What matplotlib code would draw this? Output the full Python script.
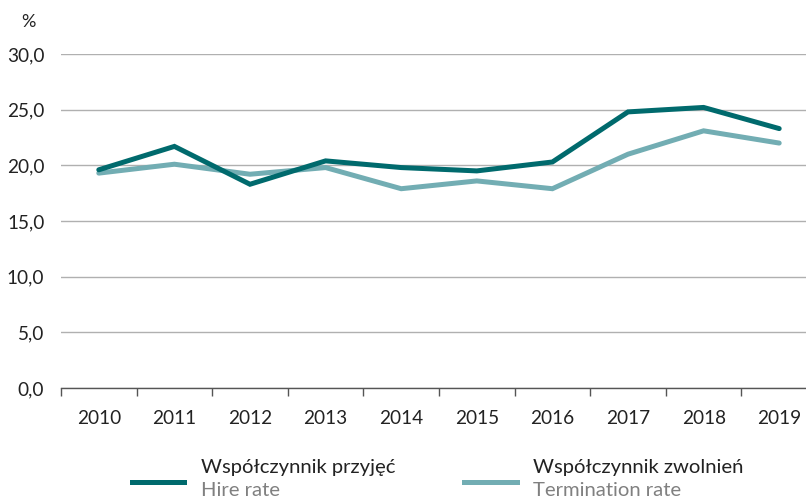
import matplotlib
matplotlib.use("Agg")
import matplotlib.pyplot as plt
from matplotlib.lines import Line2D
import numpy as np

years = ["2010", "2011", "2012", "2013", "2014", "2015", "2016", "2017", "2018", "2019"]
hire_rate = [19.6, 21.7, 18.3, 20.4, 19.8, 19.5, 20.3, 24.8, 25.2, 23.3]
termination_rate = [19.3, 20.1, 19.2, 19.8, 17.9, 18.6, 17.9, 21.0, 23.1, 22.0]
yticks = [0, 5, 10, 15, 20, 25, 30]
ytick_labels = ["0,0", "5,0", "10,0", "15,0", "20,0", "25,0", "30,0"]

plt.rcParams['font.family'] = ['Lato', 'DejaVu Sans']

W, H = 806, 501
fig = plt.figure(figsize=(W / 100, H / 100), dpi=100)
ax = fig.add_axes([61 / W, 1 - 388 / H, (806 - 61) / W, (388 - 54) / H])

x = np.arange(len(years))
dark = "#006a6d"
light = "#72adb3"
ax.plot(x, termination_rate, color=light, lw=3.6, solid_capstyle="round", solid_joinstyle="miter", zorder=3)
ax.plot(x, hire_rate, color=dark, lw=3.6, solid_capstyle="round", solid_joinstyle="miter", zorder=4)

band = 75.6
ax.set_xlim(-0.5, -0.5 + (806 - 61) / band)
ax.set_ylim(0, 30)

ax.set_yticks(yticks)
ax.set_yticklabels(ytick_labels)
ax.tick_params(axis="y", length=0, pad=12, labelsize=13.7, labelcolor="#222222")
ax.yaxis.grid(True, color="#b0b0b0", lw=1.0)
ax.set_axisbelow(True)

ax.set_xticks(x)
ax.set_xticklabels(years)
ax.set_xticks(np.arange(len(years)) - 0.5, minor=True)
ax.tick_params(axis="x", which="major", length=0, pad=16, labelsize=13.7, labelcolor="#222222")
ax.tick_params(axis="x", which="minor", length=6, width=1, color="#555555")

for s in ["top", "right", "left"]:
    ax.spines[s].set_visible(False)
ax.spines["bottom"].set_color("#555555")
ax.spines["bottom"].set_linewidth(1.0)

fig.text(28 / W, 1 - 22 / H, "%", ha="center", va="center", fontsize=13, color="#222222")

# legend
def legend_item(x0, x1, xt, color, t1, t2):
    fig.add_artist(Line2D([x0 / W, x1 / W], [1 - 481.5 / H, 1 - 481.5 / H], color=color, lw=3.6,
                          transform=fig.transFigure))
    fig.text(xt / W, 1 - 468 / H, t1, ha="left", va="center", fontsize=14.6, color="#222222")
    fig.text(xt / W, 1 - 490 / H, t2, ha="left", va="center", fontsize=14.6, color="#808080")

legend_item(132, 184, 201, dark, "Współczynnik przyjęć", "Hire rate")
legend_item(464, 517, 533, light, "Współczynnik zwolnień", "Termination rate")

fig.savefig("out.png", dpi=100)
